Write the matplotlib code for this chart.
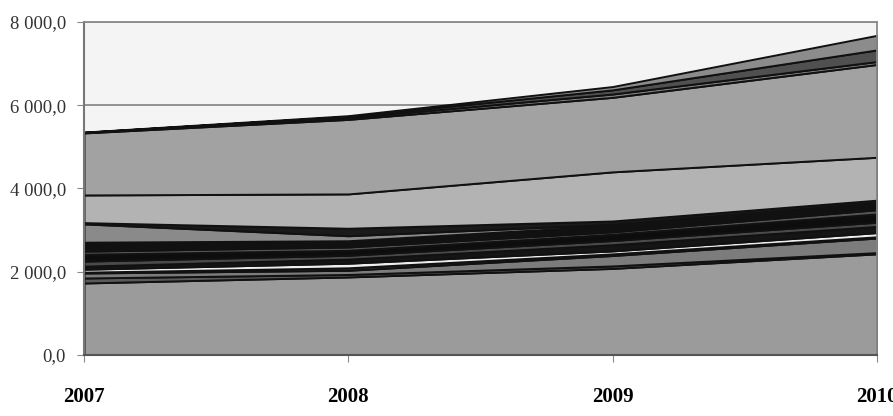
"""Área apilada en escala de grises, 2007-2010."""

import matplotlib
matplotlib.use("Agg")
import matplotlib.pyplot as plt
import numpy as np

# ── Datos ────────────────────────────────────────────────────────────
anios = [2007, 2008, 2009, 2010]

# series de abajo hacia arriba (grosor de cada capa)
serie_01 = [1730, 1875, 2080, 2430]
serie_02 = [120, 60, 60, 30]
serie_03 = [120, 100, 250, 350]
serie_04 = [20, 60, 40, 30]
serie_05 = [70, 110, 70, 100]
serie_06 = [75, 100, 150, 150]
serie_07 = [120, 90, 100, 100]
serie_08 = [165, 120, 150, 200]
serie_09 = [75, 80, 60, 100]
serie_10 = [215, 150, 150, 150]
serie_11 = [440, 120, 30, 20]
serie_12 = [30, 180, 80, 60]
serie_13 = [665, 825, 1180, 1030]
serie_14 = [1490, 1790, 1790, 2230]
serie_15 = [10, 40, 80, 70]
serie_16 = [5, 30, 100, 280]
serie_17 = [5, 20, 80, 350]

series = [serie_01, serie_02, serie_03, serie_04, serie_05, serie_06,
          serie_07, serie_08, serie_09, serie_10, serie_11, serie_12,
          serie_13, serie_14, serie_15, serie_16, serie_17]

colores = ["#9b9b9b", "#5a5a5a", "#7c7c7c", "#333333", "#eeeeee",
           "#151515", "#4a4a4a", "#0d0d0d", "#555555", "#111111",
           "#8a8a8a", "#1a1a1a", "#b3b3b3", "#a2a2a2", "#808080",
           "#505050", "#8c8c8c"]

y_ticks = [0, 2000, 4000, 6000, 8000]
y_etiquetas = ["0,0", "2 000,0", "4 000,0", "6 000,0", "8 000,0"]

# ── Figura ───────────────────────────────────────────────────────────
fig = plt.figure(figsize=(8.93, 4.16), dpi=100)
ax = fig.add_axes([84 / 893, 61 / 416, 793 / 893, 333 / 416])
ax.set_facecolor("#f4f4f4")

ax.stackplot(anios, np.array(series), colors=colores,
             edgecolor="#111111", linewidth=1.4, zorder=2)

for v in y_ticks[1:]:
    ax.axhline(v, color="#8a8a8a", lw=1.3, zorder=1)

ax.set_xlim(2007, 2010)
ax.set_ylim(0, 8000)
ax.set_xticks(anios)
ax.set_xticklabels([str(a) for a in anios], family="Liberation Serif",
                   fontweight="bold", fontsize=15)
ax.set_yticks(y_ticks)
ax.set_yticklabels(y_etiquetas, family="Liberation Serif", fontsize=13.5,
                   color="#333333")

ax.tick_params(axis="x", length=5, pad=18, color="#888888")
ax.tick_params(axis="y", length=5, pad=8, color="#888888")

for lado in ["top", "right"]:
    ax.spines[lado].set_color("#8a8a8a")
    ax.spines[lado].set_linewidth(1.3)
ax.spines["left"].set_color("#777777")
ax.spines["left"].set_linewidth(1.5)
ax.spines["bottom"].set_color("#555555")
ax.spines["bottom"].set_linewidth(1.5)

fig.savefig("out.png", dpi=100)
